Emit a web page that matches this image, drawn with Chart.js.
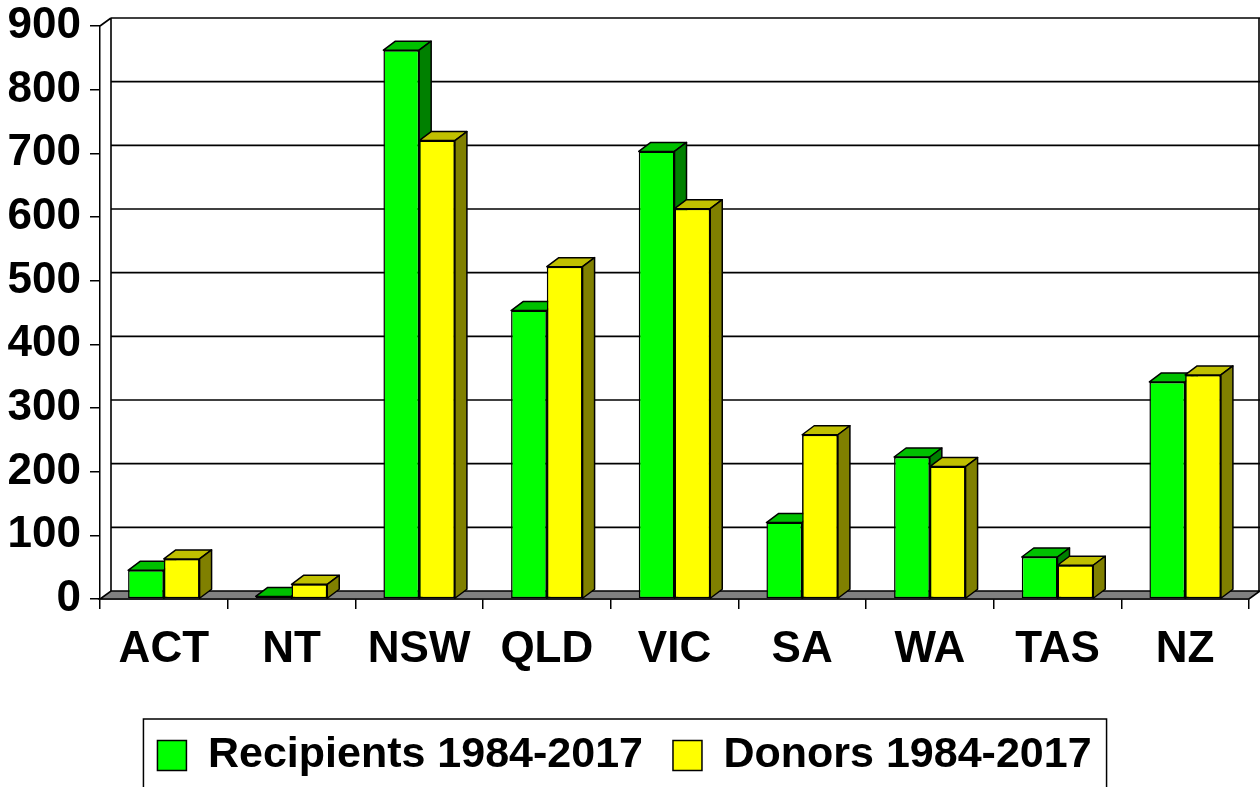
<!DOCTYPE html>
<html>
<head>
<meta charset="utf-8">
<script src="https://cdn.jsdelivr.net/npm/chart.js@4.4.1/dist/chart.umd.min.js"></script>
<style>
  html, body { margin: 0; padding: 0; background: #fff; }
</style>
</head>
<body>
<canvas id="chart" width="1260" height="787"></canvas>
<script>
const categories = ["ACT", "NT", "NSW", "QLD", "VIC", "SA", "WA", "TAS", "NZ"];
const recipients = [45, 4, 862, 453, 703, 120, 223, 66, 341];
const donors = [63, 23, 720, 522, 613, 258, 208, 53, 352];
const yTicks = [0, 100, 200, 300, 400, 500, 600, 700, 800, 900];

// depth of the fake 3d look
const DEPTH_X = 12, DEPTH_Y = 9;
const WALL_X = 11, WALL_Y = 8;
const faceColors = [
  { top: "#00c000", side: "#008000" },
  { top: "#c0c000", side: "#808000" }
];
const FONT = { family: "'Liberation Sans', Arial, sans-serif", size: 44, weight: "bold" };

function drawFaces(ctx, bar, c) {
  const { x, y, base, width } = bar.getProps(["x", "y", "base", "width"], true);
  const l = x - width / 2, r = x + width / 2;
  ctx.fillStyle = c.top;
  ctx.beginPath();
  ctx.moveTo(l, y);
  ctx.lineTo(l + DEPTH_X, y - DEPTH_Y);
  ctx.lineTo(r + DEPTH_X, y - DEPTH_Y);
  ctx.lineTo(r, y);
  ctx.closePath();
  ctx.fill();
  ctx.stroke();
  ctx.fillStyle = c.side;
  ctx.beginPath();
  ctx.moveTo(r, y);
  ctx.lineTo(r + DEPTH_X, y - DEPTH_Y);
  ctx.lineTo(r + DEPTH_X, base - DEPTH_Y);
  ctx.lineTo(r, base);
  ctx.closePath();
  ctx.fill();
  ctx.stroke();
}

const box3d = {
  id: "box3d",
  beforeDatasetsDraw(chart) {
    const { ctx, chartArea: a, scales: { y } } = chart;
    const y0 = y.getPixelForValue(0);
    const yTop = y.getPixelForValue(yTicks[yTicks.length - 1]);
    ctx.save();
    ctx.strokeStyle = "#000";
    ctx.lineWidth = 1.6;
    // lines on the back wall
    yTicks.slice(1).forEach(v => {
      const py = y.getPixelForValue(v) - WALL_Y;
      ctx.beginPath();
      ctx.moveTo(a.left + WALL_X, py);
      ctx.lineTo(a.right + WALL_X, py);
      ctx.stroke();
    });
    ctx.beginPath();
    ctx.moveTo(a.left, yTop);
    ctx.lineTo(a.left + WALL_X, yTop - WALL_Y);
    ctx.moveTo(a.left + WALL_X, yTop - WALL_Y);
    ctx.lineTo(a.left + WALL_X, y0 - WALL_Y);
    ctx.moveTo(a.right + WALL_X - 1, yTop - WALL_Y);
    ctx.lineTo(a.right + WALL_X - 1, y0 - WALL_Y);
    ctx.stroke();
    // floor
    ctx.fillStyle = "#808080";
    ctx.beginPath();
    ctx.moveTo(a.left, y0);
    ctx.lineTo(a.right, y0);
    ctx.lineTo(a.right + WALL_X, y0 - WALL_Y);
    ctx.lineTo(a.left + WALL_X, y0 - WALL_Y);
    ctx.closePath();
    ctx.fill();
    ctx.stroke();
    ctx.restore();
  },
  afterDatasetsDraw(chart) {
    const { ctx } = chart;
    const metas = chart.getSortedVisibleDatasetMetas().slice().sort((m, n) => m.index - n.index);
    ctx.save();
    ctx.strokeStyle = "#000";
    ctx.lineWidth = 1.5;
    ctx.lineJoin = "round";
    metas.forEach((meta, k) => {
      meta.data.forEach(bar => {
        if (k > 0) bar.draw(ctx, chart.chartArea);
        drawFaces(ctx, bar, faceColors[meta.index]);
      });
    });
    ctx.restore();
  },
  afterDraw(chart) {
    const lg = chart.legend;
    const boxes = lg.legendHitBoxes;
    if (!boxes || !boxes.length) return;
    const { ctx } = chart;
    const last = boxes[boxes.length - 1];
    const left = boxes[0].left - 14;
    const right = last.left + last.width + 15;
    const top = lg.top + 15;
    ctx.save();
    ctx.strokeStyle = "#000";
    ctx.lineWidth = 1.5;
    ctx.strokeRect(left, top, right - left, chart.height + 10 - top);
    ctx.restore();
  }
};

new Chart(document.getElementById("chart"), {
  type: "bar",
  data: {
    labels: categories,
    datasets: [
      {
        label: "Recipients 1984-2017",
        data: recipients,
        backgroundColor: "#00ff00",
        borderColor: "#000",
        borderWidth: 1.5,
        borderSkipped: false
      },
      {
        label: "Donors 1984-2017",
        data: donors,
        backgroundColor: "#ffff00",
        borderColor: "#000",
        borderWidth: 1.5,
        borderSkipped: false
      }
    ]
  },
  options: {
    responsive: false,
    animation: false,
    categoryPercentage: 0.56,
    barPercentage: 1.0,
    layout: { padding: { top: 26, right: 11, left: 0, bottom: 0 } },
    plugins: {
      tooltip: { enabled: false },
      legend: {
        position: "bottom",
        labels: {
          color: "#000",
          font: { ...FONT, size: 43 },
          boxWidth: 29,
          boxHeight: 30,
          padding: 30
        }
      }
    },
    scales: {
      x: {
        grid: { drawOnChartArea: false, color: "#000", lineWidth: 1.5, tickLength: 10, offset: true },
        border: { display: true, color: "#000", width: 1.5 },
        ticks: { color: "#000", font: FONT, padding: 14, maxRotation: 0 },
        afterFit: s => { s.height = 105; }
      },
      y: {
        min: 0,
        max: 900,
        grid: { drawOnChartArea: false, color: "#000", lineWidth: 1.5, tickLength: 10 },
        border: { display: true, color: "#000", width: 1.5 },
        ticks: { color: "#000", font: { ...FONT, lineHeight: 0.6 }, padding: 9 },
        afterBuildTicks: s => { s.ticks = yTicks.map(v => ({ value: v })); },
        afterFit: s => { s.width = 100; }
      }
    }
  },
  plugins: [box3d]
});
</script>
</body>
</html>
